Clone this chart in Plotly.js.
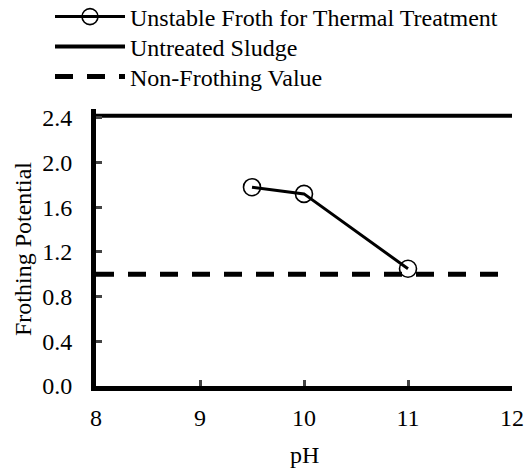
<!DOCTYPE html>
<html>
<head>
<meta charset="utf-8">
<script src="https://cdn.plot.ly/plotly-3.0.1.min.js"></script>
<style>html,body{margin:0;padding:0;background:#fff;}#chart{width:525px;height:468px;}</style>
</head>
<body>
<div id="chart"></div>
<script>
const frothPH = [9.5, 10, 11];
const frothValues = [1.78, 1.72, 1.05];
const untreatedPH = [8, 12];
const untreatedValues = [2.42, 2.42];
const nonFrothPH = [8, 12];
const nonFrothValues = [1.0, 1.0];
const xTicks = [8, 9, 10, 11, 12];
const yTicks = [0, 0.4, 0.8, 1.2, 1.6, 2.0, 2.4];
const yTickLabels = ['0.0', '0.4', '0.8', '1.2', '1.6', '2.0', '2.4'];
const xTitle = 'pH';
const yTitle = 'Frothing Potential';

const font = {family: '"Liberation Serif", "Times New Roman", serif', size: 24, color: '#000'};

const traces = [
  {x: frothPH, y: frothValues, name: 'Unstable Froth for Thermal Treatment', mode: 'lines+markers',
   legend: 'legend',
   line: {color: '#000', width: 3},
   marker: {symbol: 'circle-open', size: 17, color: '#000', line: {width: 1.6, color: '#000'}}},
  {x: untreatedPH, y: untreatedValues, name: 'Untreated Sludge', mode: 'lines',
   legend: 'legend2',
   line: {color: '#000', width: 4}},
  {x: nonFrothPH, y: nonFrothValues, name: 'Non-Frothing Value', mode: 'lines',
   legend: 'legend3',
   line: {color: '#000', width: 5, dash: '18px,14px'}}
];

function leg(yc) {
  return {x: 50 / 525, y: 1 - yc / 468, xanchor: 'left', yanchor: 'middle', xref: 'container', yref: 'container',
    font: font, itemwidth: 70, bgcolor: 'rgba(0,0,0,0)'};
}

const layout = {
  width: 525, height: 468,
  margin: {l: 96, r: 13, t: 109, b: 82, autoexpand: false},
  paper_bgcolor: '#fff', plot_bgcolor: '#fff',
  font: font,
  showlegend: true,
  legend: leg(17),
  legend2: leg(47),
  legend3: leg(77),
  xaxis: {range: [8, 12], tickvals: xTicks, ticks: 'inside', ticklen: 6, tickwidth: 3,
    showline: true, linewidth: 5, linecolor: '#000', showgrid: false, zeroline: false,
    ticklabelstandoff: 6},
  yaxis: {range: [0, 2.48], tickvals: yTicks, ticktext: yTickLabels, ticks: 'inside', ticklen: 6, tickwidth: 3,
    showline: true, linewidth: 5, linecolor: '#000', showgrid: false, zeroline: false,
    ticklabelstandoff: 14},
  annotations: [
    {text: xTitle, xref: 'paper', yref: 'paper', x: 0.5, y: -0.249, xanchor: 'center', yanchor: 'middle',
     showarrow: false, font: font},
    {text: yTitle, xref: 'paper', yref: 'paper', x: -0.1755, y: 0.4946, xanchor: 'center', yanchor: 'middle',
     textangle: -90, showarrow: false, font: font}
  ]
};

Plotly.newPlot('chart', traces, layout, {displayModeBar: false, staticPlot: true});
</script>
</body>
</html>
